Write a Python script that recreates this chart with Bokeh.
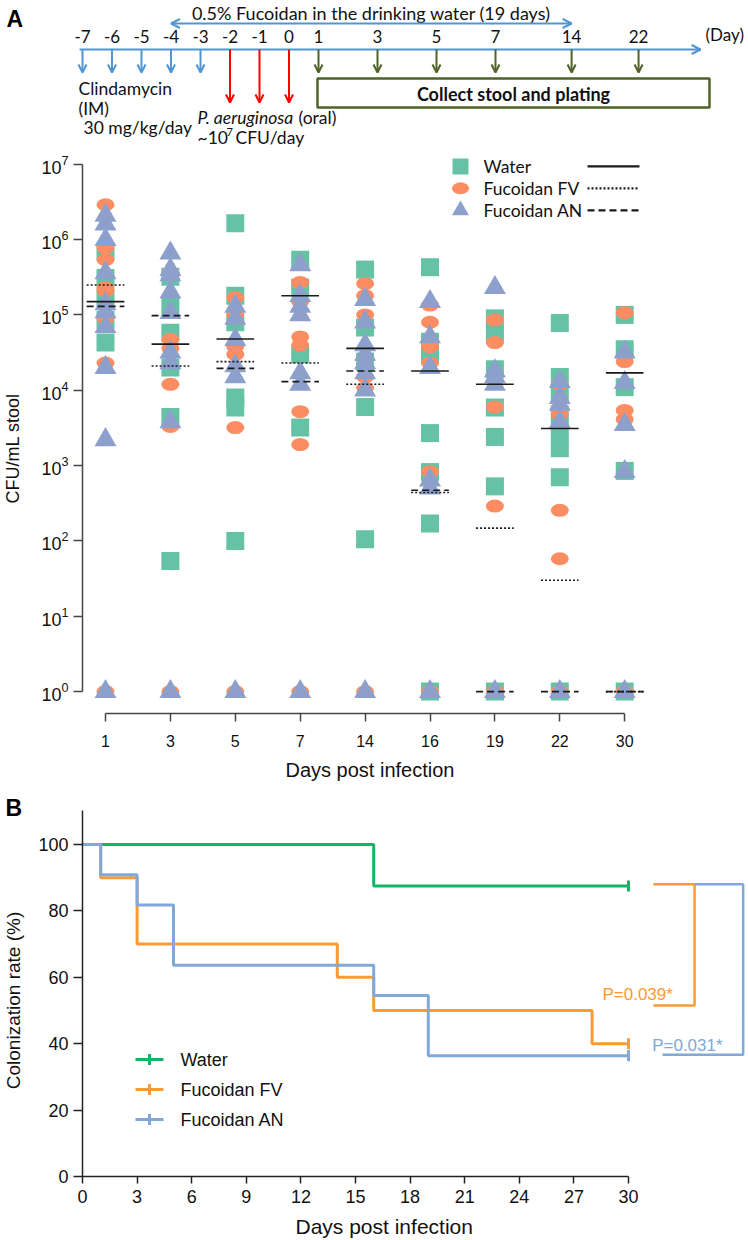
import numpy as np
from bokeh.plotting import figure
from bokeh.models import Range1d, FixedTicker, Arrow, OpenHead, ColumnDataSource, Title
from bokeh.layouts import column
from bokeh.embed import file_html
from bokeh.resources import INLINE
from bokeh.core.properties import value

# ---------------- DATA ----------------
# schematic timeline (panel A, top)
timeline_labels = ["-7", "-6", "-5", "-4", "-3", "-2", "-1", "0", "1", "3", "5", "7", "14", "22"]
timeline_slots = [-7, -6, -5, -4, -3, -2, -1, 0, 1, 3, 5, 7, 9.58, 11.85]
clinda_days = ["-7", "-6", "-5", "-4", "-3"]
pa_days = ["-2", "-1", "0"]
sample_days = ["1", "3", "5", "7", "14", "22"]
fucoidan_span = ["-4", "14"]

# panel A scatter
days_a = ["1", "3", "5", "7", "14", "16", "19", "22", "30"]
water_vals = [
    [7.0e5, 3.1e5, 1.7e5, 8.6e4, 4.3e4],
    [3.2e5, 1.27e5, 5.8e4, 2.0e4, 4.4e3, 54],
    [1.65e6, 1.8e5, 8e4, 8e3, 5.9e3, 100],
    [5.4e5, 2.3e5, 3e4, 3.2e3],
    [4e5, 6.8e4, 2.4e4, 6e3, 105],
    [4.3e5, 4.4e4, 3e4, 2.7e3, 820, 170, 1],
    [9e4, 5.5e4, 1.9e4, 5.9e3, 2.4e3, 530, 1],
    [7.8e4, 1.5e4, 8.7e3, 4.8e3, 2.8e3, 1.7e3, 700, 1],
    [1e5, 3.5e4, 1.1e4, 850, 1],
]
fv_vals = [
    [2.9e6, 7.8e5, 5.4e5, 2.3e5, 2.1e5, 9e4, 2.3e4, 1],
    [3.6e5, 4.7e4, 3.6e4, 1.2e4, 3.3e3, 1],
    [1.7e5, 1e5, 3.8e4, 3e4, 3.2e3, 1],
    [2.7e5, 1.5e5, 5.1e4, 4e4, 5.2e3, 1.9e3, 1],
    [2.6e5, 1.8e5, 1.0e5, 1.5e4, 1.07e4, 1],
    [1.35e5, 8e4, 3.8e4, 2.3e4, 830, 1],
    [8.6e4, 4.3e4, 6e3, 290, 1],
    [1.2e4, 4.8e3, 255, 58, 1],
    [1.07e5, 2.4e4, 5.4e3, 4.1e3, 1],
]
an_vals = [
    [2.1e6, 1.6e6, 1.0e6, 3.6e5, 1.4e5, 1.1e5, 7e4, 2e4, 2.2e3, 1],
    [6.6e5, 4e5, 3.4e5, 2e5, 1.07e5, 3.2e4, 2.3e4, 3.8e3, 1],
    [1.3e5, 9e4, 4.7e4, 2.1e4, 1.5e4, 1],
    [4.6e5, 1.8e5, 1.3e5, 1e5, 1.7e4, 1.2e4, 1],
    [1.6e5, 8e4, 4e4, 3e4, 2.3e4, 1.7e4, 1e4, 1],
    [1.5e5, 5.1e4, 2e4, 640, 500, 1],
    [2.3e5, 1.8e4, 1.5e4, 1.2e4, 1],
    [1.3e4, 8e3, 6.5e3, 3.8e3, 1],
    [3.2e4, 1.26e4, 3.5e3, 830, 1],
]
water_median = [1.5e5, 4.1e4, 4.8e4, 1.8e5, 3.6e4, 1.8e4, 1.2e4, 3.1e3, 1.7e4]
fv_median = [2.5e5, 2.1e4, 2.4e4, 2.3e4, 1.2e4, 440, 148, 30, 1]
an_median = [1.3e5, 9.8e4, 1.95e4, 1.3e4, 1.8e4, 470, 1, 1, 1]
y_ticks_a = [1, 10, 100, 1e3, 1e4, 1e5, 1e6, 1e7]
legend_a = ["Water", "Fucoidan FV", "Fucoidan AN"]

# panel B Kaplan-Meier
water_t = [0, 16, 30]
water_s = [100, 87.5, 87.5]
fv_t = [0, 1, 3, 14, 16, 28, 30]
fv_s = [100, 90, 70, 60, 50, 40, 40]
an_t = [0, 1, 3, 5, 16, 19, 30]
an_s = [100, 90.9, 81.8, 63.6, 54.5, 36.4, 36.4]
censor_t = 30
x_ticks_b = [0, 3, 6, 9, 12, 15, 18, 21, 24, 27, 30]
y_ticks_b = [0, 20, 40, 60, 80, 100]
p_labels = ["P=0.039*", "P=0.031*"]
p_label_pos = [(28.57, 54.8), (31.3, 39.5)]
fv_bracket = ([31.37, 33.63, 33.63, 31.37], [88, 88, 51.5, 51.5])
an_bracket = ([33.63, 36.3, 36.3, 31.87], [88, 88, 36.7, 36.7])

# ---------------- STYLE ----------------
W = 748
ARIAL = "Liberation Sans"
CAL = "Lato"
GREEN_A, ORANGE_A, BLUE_A = "#66c2a5", "#fc8d62", "#8da0cb"
GREEN_B, ORANGE_B, BLUE_B = "#14b466", "#fd9a31", "#80a8d8"
SBLUE, SRED, OLIVE = "#5195d3", "#ff0000", "#4f6228"
AXC = "#444444"
TXT = "#111111"

# ================= FIGURE 1: schematic =================
slot = dict(zip(timeline_labels, timeline_slots))
def sx(lbl):
    return 82 + 29.5 * (slot[lbl] + 7)

f1 = figure(width=W, height=150, x_range=Range1d(0, W), y_range=Range1d(150, 0),
            x_axis_type=None, y_axis_type=None, output_backend="svg", toolbar_location=None,
            min_border=0, outline_line_color=None)
f1.grid.visible = False
f1.frame_align = False

Y_LAB, Y_LINE, Y_SHORT, Y_LONG = 36, 49, 72, 102
FS = "17.5px"

xa, xb = sx(fucoidan_span[0]), sx(fucoidan_span[1])
f1.text(x=[(xa + xb) / 2], y=[12], text=["0.5% Fucoidan in the drinking water (19 days)"],
        text_font=value(CAL), text_font_size="18px", text_align="center", text_baseline="middle",
        text_color=TXT)
f1.add_layout(Arrow(start=OpenHead(size=9, line_color=SBLUE, line_width=2),
                    end=OpenHead(size=9, line_color=SBLUE, line_width=2),
                    x_start=xa, y_start=23, x_end=xb, y_end=23, line_color=SBLUE, line_width=2))

f1.text(x=[sx(l) for l in timeline_labels], y=[Y_LAB] * len(timeline_labels), text=timeline_labels,
        text_font=value(CAL), text_font_size="17px", text_align="center", text_baseline="middle",
        text_color=TXT)
f1.text(x=[705], y=[Y_LAB - 2], text=["(Day)"], text_font=value(CAL), text_font_size="17px",
        text_align="left", text_baseline="middle", text_color=TXT)

f1.add_layout(Arrow(end=OpenHead(size=9, line_color=SBLUE, line_width=2),
                    x_start=sx("-7") - 3, y_start=Y_LINE, x_end=sx("22") + 62, y_end=Y_LINE,
                    line_color=SBLUE, line_width=2))

def down_arrows(days, y_end, color):
    src = ColumnDataSource(dict(x=[sx(d) for d in days], y0=[Y_LINE] * len(days),
                                y1=[y_end] * len(days)))
    f1.add_layout(Arrow(end=OpenHead(size=8, line_color=color, line_width=2),
                        x_start="x", y_start="y0", x_end="x", y_end="y1", source=src,
                        line_color=color, line_width=2))

down_arrows(clinda_days, Y_SHORT, SBLUE)
down_arrows(pa_days, Y_LONG, SRED)
down_arrows(sample_days, Y_SHORT, OLIVE)

f1.quad(left=[sx("1") - 1], right=[709], top=[78], bottom=[107], fill_color="white",
        line_color=OLIVE, line_width=2.5)
f1.text(x=[(sx("1") - 1 + 709) / 2], y=[93], text=["Collect stool and plating"],
        text_font=value(CAL), text_font_size="18px", text_font_style="bold",
        text_align="center", text_baseline="middle", text_color=TXT)

def t1(x, y, s, size=FS, style="normal"):
    f1.text(x=[x], y=[y], text=[s], text_font=value(CAL), text_font_size=size,
            text_font_style=style, text_align="left", text_baseline="middle", text_color=TXT)

t1(78, 88, "Clindamycin")
t1(78, 108, "(IM)")
t1(83, 127, "30 mg/kg/day")
t1(197, 117, "P. aeruginosa", style="italic")
t1(298, 117, "(oral)")
t1(197, 137, "~10")
t1(226, 131, "7", size="11px")
t1(235, 137, "CFU/day")
f1.text(x=[6], y=[18], text=["A"], text_font=value(ARIAL), text_font_size="23px",
        text_font_style="bold", text_align="left", text_baseline="middle", text_color="black")

# ================= FIGURE 2: CFU scatter =================
DX, X0 = 64.9, 105
def ax2(px):
    return (px - X0) / DX
def ay2(py):
    return 10 ** ((693 - py) / 75.6)

f2 = figure(width=W, height=637, x_range=Range1d(ax2(0), ax2(W)),
            y_range=Range1d(ay2(715), ay2(152)), y_axis_type="log",
            output_backend="svg", toolbar_location=None, min_border_left=0,
            min_border_right=0, min_border_top=2, min_border_bottom=72,
            outline_line_color=None)
f2.grid.visible = False
f2.frame_align = False

def flat(vals):
    xs, ys = [], []
    for i, vs in enumerate(vals):
        xs += [i] * len(vs)
        ys += vs
    return xs, ys

wx, wy = flat(water_vals)
ox, oy = flat(fv_vals)
bx, by = flat(an_vals)
f2.scatter(wx, wy, marker="square", size=18, fill_color=GREEN_A, line_color=None)
f2.ellipse(ox, oy, width=18, height=13, width_units="screen", height_units="screen",
           fill_color=ORANGE_A, line_color=None)
f2.scatter(bx, by, marker="triangle", size=22, fill_color=BLUE_A, line_color=None)

HW = 0.29
idx = np.arange(len(days_a))
for med, dash in [(water_median, "solid"), (fv_median, "2 2"), (an_median, "7 4")]:
    f2.segment(x0=idx - HW, x1=idx + HW, y0=med, y1=med, line_color="#1a1a1a",
               line_width=1.6, line_dash=dash)

f2.yaxis.ticker = FixedTicker(ticks=y_ticks_a, minor_ticks=[])
f2.yaxis.bounds = (y_ticks_a[0], y_ticks_a[-1])
f2.yaxis.fixed_location = ax2(82)
f2.xaxis.ticker = FixedTicker(ticks=list(range(len(days_a))), minor_ticks=[])
f2.xaxis.major_label_overrides = {i: d for i, d in enumerate(days_a)}
f2.xaxis.bounds = (0, len(days_a) - 1)
for ax in (f2.xaxis, f2.yaxis):
    ax.axis_line_color = AXC
    ax.axis_line_width = 1.5
    ax.major_tick_line_color = AXC
    ax.major_tick_line_width = 1.5
    ax.major_tick_in = 0
    ax.minor_tick_line_color = None
    ax.major_label_text_font = ARIAL
    ax.major_label_text_color = TXT
f2.yaxis.major_tick_out = 9
f2.yaxis.major_label_standoff = 5
f2.yaxis.major_label_text_font_size = "18px"
f2.xaxis.major_tick_out = 8
f2.xaxis.major_label_standoff = 13
f2.xaxis.major_label_text_font_size = "16px"

f2.add_layout(Title(text="Days post infection", align="left", offset=285, standoff=14,
                    text_font=ARIAL, text_font_size="20px", text_font_style="normal",
                    text_color=TXT), "below")
f2.text(x=[ax2(12)], y=[ay2(449)], text=["CFU/mL stool"], angle=np.pi / 2,
        text_font=value(ARIAL), text_font_size="18px", text_align="center",
        text_baseline="middle", text_color=TXT)

# legend (markers, labels, line samples)
rows = [ay2(166), ay2(188), ay2(210)]
mx = ax2(460)
f2.scatter([mx], [rows[0]], marker="square", size=16, fill_color=GREEN_A, line_color=None)
f2.ellipse([mx], [rows[1]], width=17, height=12, width_units="screen", height_units="screen",
           fill_color=ORANGE_A, line_color=None)
f2.scatter([mx], [rows[2]], marker="triangle", size=17, fill_color=BLUE_A, line_color=None)
f2.text(x=[ax2(483)] * 3, y=rows, text=legend_a, text_font=value(CAL), text_font_size="17.5px",
        text_align="left", text_baseline="middle", text_color=TXT)
for r, dash in zip(rows, ["solid", "2 2", "7 4"]):
    f2.segment(x0=[ax2(587)], x1=[ax2(639)], y0=[r], y1=[r], line_color="#1a1a1a",
               line_width=2.2, line_dash=dash)

# ================= FIGURE 3: Kaplan-Meier =================
PXD, PYD = 18.2, 3.32
def bx3(px):
    return (px - 82) / PXD
def by3(py):
    return (1176 - py) / PYD

f3 = figure(width=W, height=453, x_range=Range1d(bx3(0), bx3(W)),
            y_range=Range1d(by3(1240), by3(787)),
            output_backend="svg", toolbar_location=None, min_border_left=0,
            min_border_right=0, min_border_top=0, min_border_bottom=0,
            outline_line_color=None)
f3.grid.visible = False
f3.frame_align = False

colors_b = [GREEN_B, ORANGE_B, BLUE_B]
for t, s, c in [(water_t, water_s, GREEN_B), (fv_t, fv_s, ORANGE_B), (an_t, an_s, BLUE_B)]:
    f3.step(t, s, mode="after", line_color=c, line_width=3)
    f3.scatter([censor_t], [s[-1]], marker="dash", angle=np.pi / 2, size=11,
               line_color=c, line_width=3)

f3.line(fv_bracket[0], fv_bracket[1], line_color=ORANGE_B, line_width=2.5)
f3.line(an_bracket[0], an_bracket[1], line_color=BLUE_B, line_width=2.5)
f3.text(x=[p[0] for p in p_label_pos], y=[p[1] for p in p_label_pos], text=p_labels,
        text_color=[ORANGE_B, BLUE_B], text_font=value(ARIAL), text_font_size="17px",
        text_align="left", text_baseline="middle")

lrows = [by3(1059), by3(1089), by3(1119)]
f3.segment(x0=[bx3(135)] * 3, x1=[bx3(163)] * 3, y0=lrows, y1=lrows, line_color=colors_b,
           line_width=3)
f3.scatter([bx3(149)] * 3, lrows, marker="dash", angle=np.pi / 2, size=11,
           line_color=colors_b, line_width=3)
f3.text(x=[bx3(180)] * 3, y=lrows, text=legend_a, text_font=value(ARIAL),
        text_font_size="18px", text_align="left", text_baseline="middle", text_color=TXT)

f3.text(x=[bx3(5)], y=[by3(807)], text=["B"], text_font=value(ARIAL), text_font_size="23px",
        text_font_style="bold", text_align="left", text_baseline="middle", text_color="black")
f3.text(x=[bx3(13)], y=[by3(1000)], text=["Colonization rate (%)"], angle=np.pi / 2,
        text_font=value(ARIAL), text_font_size="19px", text_align="center",
        text_baseline="middle", text_color=TXT)
f3.text(x=[bx3(295)], y=[by3(1226)], text=["Days post infection"],
        text_font=value(ARIAL), text_font_size="21px", text_align="left",
        text_baseline="middle", text_color=TXT)

f3.xaxis.ticker = FixedTicker(ticks=x_ticks_b, minor_ticks=[])
f3.xaxis.bounds = (x_ticks_b[0], x_ticks_b[-1])
f3.xaxis.fixed_location = 0
f3.yaxis.ticker = FixedTicker(ticks=y_ticks_b, minor_ticks=[])
f3.yaxis.bounds = (0, by3(810))
f3.yaxis.fixed_location = 0
for ax in (f3.xaxis, f3.yaxis):
    ax.axis_line_color = "#222222"
    ax.axis_line_width = 1.5
    ax.major_tick_line_color = "#222222"
    ax.major_tick_line_width = 1.5
    ax.major_tick_in = 0
    ax.minor_tick_line_color = None
    ax.major_label_text_font = ARIAL
    ax.major_label_text_font_size = "18px"
    ax.major_label_text_color = TXT
f3.yaxis.major_tick_out = 9
f3.yaxis.major_label_standoff = 5
f3.xaxis.major_tick_out = 7
f3.xaxis.major_label_standoff = 6

layout = column(f1, f2, f3, spacing=0)
open("out.html", "w").write(file_html(layout, INLINE))
